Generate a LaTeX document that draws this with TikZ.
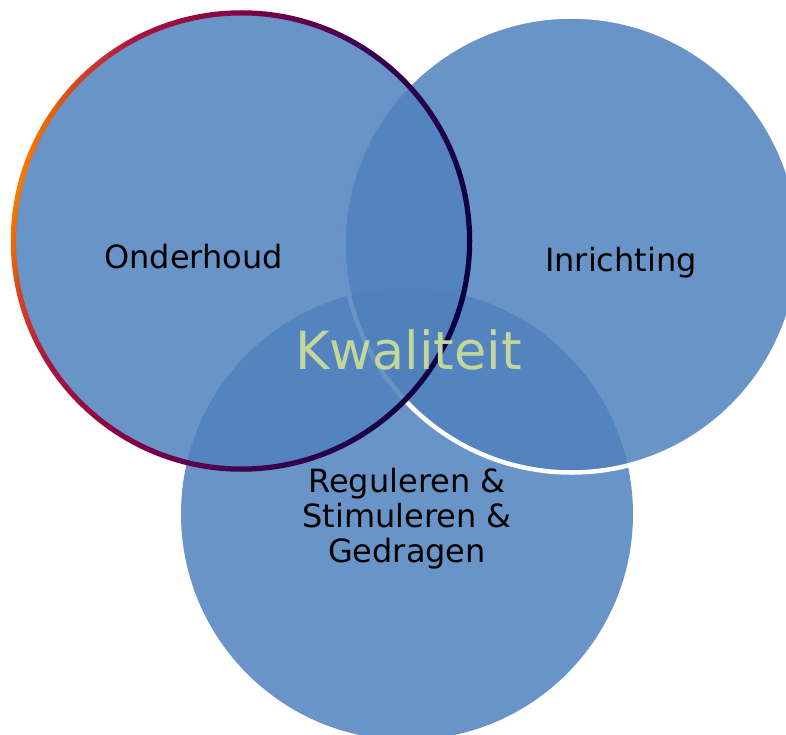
\documentclass[tikz,border=0pt]{standalone}
\usepackage{fontspec}
\setmainfont{DejaVu Sans}
\definecolor{circblue}{RGB}{79,129,189}
\definecolor{kwal}{RGB}{196,215,155}
\definecolor{ringA}{RGB}{245,122,0}
\definecolor{ringB}{RGB}{214,70,30}
\definecolor{ringC}{RGB}{170,20,60}
\definecolor{ringD}{RGB}{120,0,72}
\definecolor{ringE}{RGB}{64,0,80}
\definecolor{ringF}{RGB}{10,0,64}
\pgfdeclarehorizontalshading{ringshade}{100bp}{color(0bp)=(ringA); color(25bp)=(ringA); color(28bp)=(ringB); color(33bp)=(ringC); color(46bp)=(ringD); color(57bp)=(ringE); color(75bp)=(ringF); color(100bp)=(ringF)}
\tikzset{
  venn/.style={fill=circblue, fill opacity=0.85},
  lbl/.style={inner sep=0pt, text=black, font=\fontsize{32}{35}\selectfont, anchor=base},
  biglbl/.style={inner sep=0pt, text=kwal, font=\fontsize{52.5}{60}\selectfont, anchor=base}
}
\begin{document}
\begin{tikzpicture}[x=1pt,y=-1pt]
\useasboundingbox (0,0) rectangle (786,735);
\clip (0,0) rectangle (786,735);
\coordinate (cb) at (407,514);
\coordinate (cr) at (571.5,244.5);
\coordinate (cl) at (241.5,241);
\fill[venn] (cb) circle (226pt);
\fill[venn] (cr) circle (228pt);
\draw[white, line width=4.5pt] (cr) circle (228pt);
\fill[venn] (cl) circle (228pt);
\shade[shading=ringshade, shading angle=-15, even odd rule] (cl) circle (230.75pt) (cl) circle (225.5pt);
\node[lbl] (ond) at (193.5,268) {Onderhoud};
\node[lbl] (inr) at (621,271) {Inrichting};
\node[biglbl] (kwa) at (408.5,369) {Kwaliteit};
\node[lbl] (reg1) at (407,492) {Reguleren \&};
\node[lbl] (reg2) at (407,527) {Stimuleren \&};
\node[lbl] (reg3) at (407,562) {Gedragen};
\end{tikzpicture}
\end{document}
